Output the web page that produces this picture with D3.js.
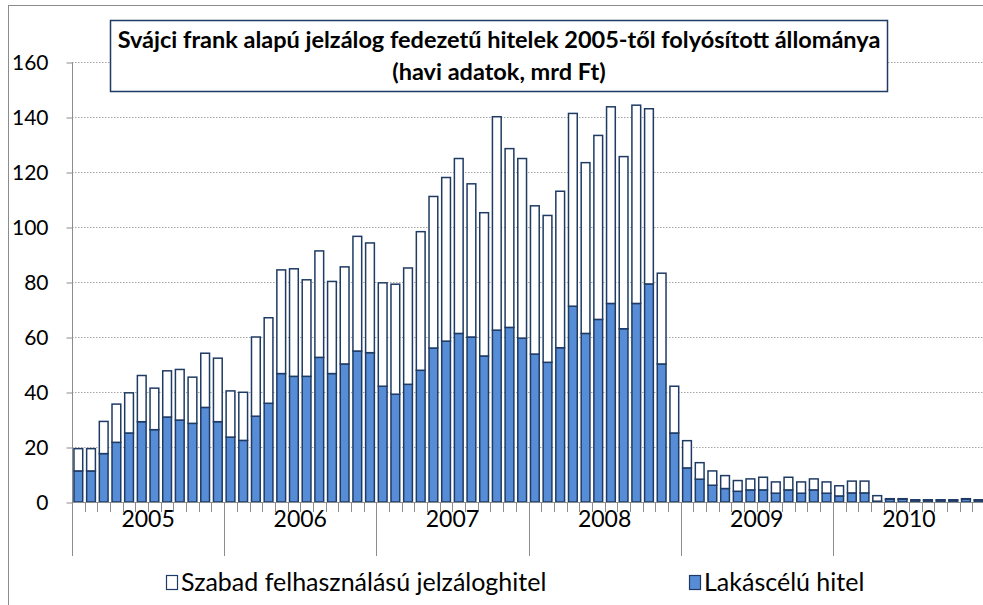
<!DOCTYPE html>
<html>
<head>
<meta charset="utf-8">
<script src="https://cdn.jsdelivr.net/npm/d3@7"></script>
<style>
  body { margin: 0; background: #fff; }
  svg text { font-family: Lato, "Open Sans", sans-serif; fill: #000; }
</style>
</head>
<body>
<svg id="chart" width="983" height="605"></svg>
<script>
// havi adatok, mrd Ft
var years = ["2005", "2006", "2007", "2008", "2009", "2010"];
var lakascelu = [
  11.3, 11.3, 17.6, 21.7, 25.1, 29.2, 26.3, 30.9, 29.8, 28.6, 34.4, 29.2,
  23.6, 22.4, 31.2, 35.9, 46.7, 45.7, 45.7, 52.6, 46.7, 50.2, 54.9, 54.3,
  42.1, 39.2, 42.8, 47.9, 56.0, 58.5, 61.3, 60.0, 53.1, 62.5, 63.5, 59.6,
  53.8, 50.8, 56.1, 71.2, 61.3, 66.4, 72.2, 63.0, 72.2, 79.3, 50.2, 25.1,
  12.4, 8.3, 6.1, 4.9, 3.9, 4.4, 4.4, 3.2, 4.4, 3.2, 4.4, 3.2,
  2.2, 3.3, 3.3, 0.3, 1.0, 1.0, 0.6, 0.6, 0.6, 0.6, 1.0, 0.6
];
var szabad = [
  8.1, 8.1, 11.7, 13.9, 14.6, 16.8, 15.1, 16.8, 18.4, 16.8, 19.7, 23.1,
  16.8, 17.5, 28.8, 31.1, 37.7, 39.1, 35.1, 38.7, 33.5, 35.3, 41.7, 39.9,
  37.6, 40.0, 42.3, 50.4, 55.1, 59.5, 63.6, 55.7, 52.1, 77.6, 65.0, 65.3,
  53.9, 53.4, 56.9, 70.1, 62.1, 66.9, 71.5, 62.6, 72.1, 63.7, 33.0, 17.0,
  9.9, 6.0, 5.2, 4.7, 3.9, 4.0, 4.6, 4.1, 4.6, 4.1, 4.0, 4.1,
  3.7, 4.3, 4.3, 2.0, 0.2, 0.2, 0.2, 0.2, 0.2, 0.2, 0.2, 0.2
];
var y_ticks = [0, 20, 40, 60, 80, 100, 120, 140, 160];
var title_lines = ["Svájci frank alapú jelzálog fedezetű hitelek 2005-től folyósított állománya", "(havi adatok, mrd Ft)"];
var legend_labels = ["Szabad felhasználású jelzáloghitel", "Lakáscélú hitel"];

var navy = "#1F3B64", blue = "#568DD6", grey = "#8C8C8C";
var svg = d3.select("#chart");

// chart area frame (cropped on right/bottom)
svg.append("rect").attr("x", 8.5).attr("y", 5.5).attr("width", 1000).attr("height", 700)
  .attr("fill", "#fff").attr("stroke", "#8C8C8C").attr("stroke-width", 1);

var months = d3.range(lakascelu.length);
var rows = months.map(function (i) { return {month: i, lakas: lakascelu[i], szabad: szabad[i]}; });

var x = d3.scaleBand().domain(months).range([72, 985]).paddingInner(0.31).paddingOuter(0.155);
var y = d3.scaleLinear().domain([0, 160]).range([502, 62]);
var step = x.step();
var left = 72, right = 985;

// gridlines
svg.append("g").selectAll("line").data(y_ticks.filter(function (d) { return d > 0; })).enter().append("line")
  .attr("x1", left).attr("x2", right).attr("y1", function (d) { return Math.round(y(d)) + 0.5; }).attr("y2", function (d) { return Math.round(y(d)) + 0.5; })
  .attr("stroke", "#A6A6A6").attr("stroke-width", 1).attr("stroke-dasharray", "1.5,1.5");

// y axis
var yAxis = svg.append("g").attr("transform", "translate(" + (left + 0.5) + ",0.5)")
  .call(d3.axisLeft(y).tickValues(y_ticks).tickSize(6).tickPadding(18).tickFormat(d3.format("d")));
yAxis.select(".domain").attr("stroke", grey).attr("d", "M0," + Math.round(y(160)) + "V" + Math.round(y(0)));
yAxis.selectAll(".tick line").attr("stroke", grey);
yAxis.selectAll(".tick text").style("font-size", "21px").attr("dy", "0.35em");

// stacked bars
var stack = d3.stack().keys(["lakas", "szabad"]);
var series = stack(rows);
var fills = {lakas: blue, szabad: "#fff"};
svg.append("g").selectAll("g").data(series).enter().append("g")
  .attr("fill", function (s) { return fills[s.key]; })
  .selectAll("rect").data(function (s) { return s; }).enter().append("rect")
  .attr("x", function (d) { return x(d.data.month); })
  .attr("y", function (d) { return y(d[1]); })
  .attr("width", x.bandwidth())
  .attr("height", function (d) { return Math.max(0, y(d[0]) - y(d[1])); })
  .attr("stroke", navy).attr("stroke-width", 1.5);

// x axis: month ticks and year separators
var xg = svg.append("g");
xg.append("line").attr("x1", left).attr("x2", right).attr("y1", Math.round(y(0)) + 0.5).attr("y2", Math.round(y(0)) + 0.5).attr("stroke", grey);
xg.selectAll(".mtick").data(d3.range(lakascelu.length + 1)).enter().append("line")
  .attr("x1", function (i) { return Math.round(left + i * step) + 0.5; })
  .attr("x2", function (i) { return Math.round(left + i * step) + 0.5; })
  .attr("y1", Math.round(y(0)))
  .attr("y2", function (i) { return i % 12 == 0 ? 556 : 512; })
  .attr("stroke", grey);
xg.selectAll(".ylab").data(years).enter().append("text")
  .attr("x", function (d, i) { return left + (i * 12 + 6) * step; })
  .attr("y", 527).attr("text-anchor", "middle").style("font-size", "23px").text(function (d) { return d; });

// title box
svg.append("rect").attr("x", 110.5).attr("y", 20.5).attr("width", 777).attr("height", 71).attr("fill", "#fff").attr("stroke", navy).attr("stroke-width", 1.5);
svg.selectAll(".title").data(title_lines).enter().append("text")
  .attr("x", 499).attr("y", function (d, i) { return 48 + i * 32; })
  .attr("text-anchor", "middle").style("font-size", "23.5px").style("font-weight", "bold").text(function (d) { return d; });

// legend
var legend = svg.append("g");
var legend_x = [166, 689], legend_fill = ["#fff", blue];
legend_labels.forEach(function (lab, i) {
  legend.append("rect").attr("x", legend_x[i] + 0.5).attr("y", 575.5).attr("width", 11).attr("height", 14)
    .attr("fill", legend_fill[i]).attr("stroke", navy).attr("stroke-width", 1.2);
  legend.append("text").attr("x", legend_x[i] + 15).attr("y", 591).style("font-size", "25px").text(lab);
});
</script>
</body>
</html>
